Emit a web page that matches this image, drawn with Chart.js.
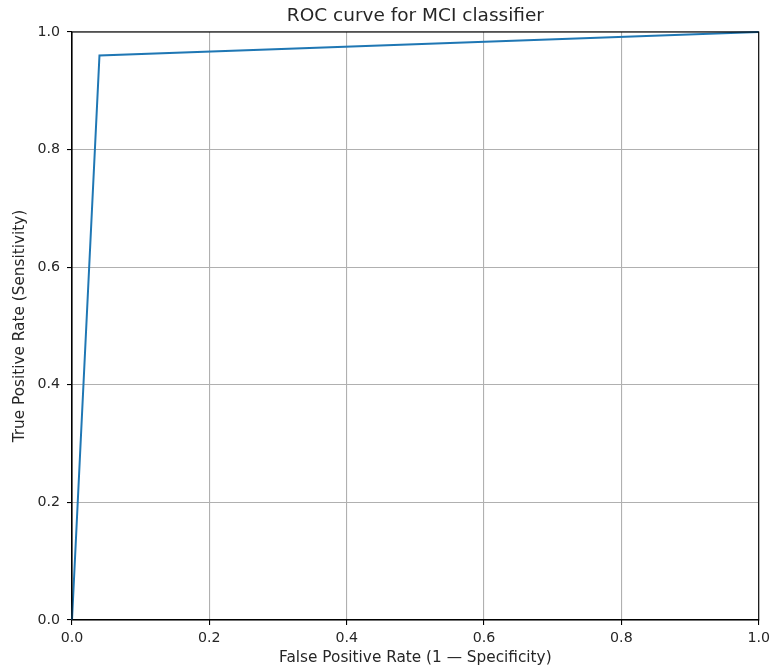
<!DOCTYPE html>
<html>
<head>
<meta charset="utf-8">
<script src="https://cdn.jsdelivr.net/npm/chart.js@4.4.1/dist/chart.umd.min.js"></script>
<style>
  html, body { margin: 0; padding: 0; background: #fff; }
  #wrap { width: 775px; height: 672px; }
</style>
</head>
<body>
<div id="wrap"><canvas id="roc" width="775" height="672"></canvas></div>
<script>
// ROC points (false positive rate vs true positive rate)
const fpr = [0, 0.04, 1];
const tpr = [0, 0.96, 1];
const titleText = "ROC curve for MCI classifier";
const xLabel = "False Positive Rate (1 \u2014 Specificity)";
const yLabel = "True Positive Rate (Sensitivity)";

const FONT = "'DejaVu Sans', sans-serif";
const TEXT = "#262626";

// matplotlib-style frame: spines on all four sides, drawn over the line
const frame = {
  id: "frame",
  afterDatasetsDraw(chart) {
    const { ctx, chartArea: a } = chart;
    ctx.save();
    ctx.strokeStyle = "#000";
    ctx.lineWidth = 1.1;
    ctx.strokeRect(a.left, a.top, a.right - a.left, a.bottom - a.top);
    ctx.restore();
  }
};

const points = fpr.map((x, i) => ({ x: x, y: tpr[i] }));

new Chart(document.getElementById("roc").getContext("2d"), {
  type: "scatter",
  data: {
    datasets: [{
      data: points,
      showLine: true,
      borderColor: "#1f77b4",
      borderWidth: 2,
      pointRadius: 0,
      tension: 0,
      clip: 4
    }]
  },
  options: {
    responsive: false,
    animation: false,
    layout: { padding: { left: 0, right: 14, top: 0, bottom: 0 } },
    plugins: {
      legend: { display: false },
      tooltip: { enabled: false },
      title: {
        display: true,
        fullSize: false,
        text: titleText,
        color: TEXT,
        font: { family: FONT, size: 18.5, weight: "normal", lineHeight: 1.19 },
        padding: { top: 5, bottom: 5 }
      }
    },
    scales: {
      x: {
        type: "linear",
        min: 0,
        max: 1,
        afterFit(scale) { scale.height = 52; },
        ticks: {
          stepSize: 0.2,
          padding: 5,
          color: TEXT,
          font: { family: FONT, size: 14.2 },
          callback: v => v.toFixed(1)
        },
        grid: { color: "#b0b0b0", lineWidth: 1.1, tickLength: 5, tickColor: "#000" },
        border: { color: "#000", width: 1.1 },
        title: {
          display: true,
          text: xLabel,
          color: TEXT,
          font: { family: FONT, size: 15.3 },
          padding: { top: 0, bottom: 5 }
        }
      },
      y: {
        type: "linear",
        min: 0,
        max: 1,
        afterFit(scale) { scale.width = 72; },
        ticks: {
          stepSize: 0.2,
          padding: 7,
          color: TEXT,
          font: { family: FONT, size: 14.2 },
          callback: v => v.toFixed(1)
        },
        grid: { color: "#b0b0b0", lineWidth: 1.1, tickLength: 5, tickColor: "#000" },
        border: { color: "#000", width: 1.1 },
        title: {
          display: true,
          text: yLabel,
          color: TEXT,
          font: { family: FONT, size: 15.3 },
          padding: { top: 11, bottom: 0 }
        }
      }
    }
  },
  plugins: [frame]
});
</script>
</body>
</html>
